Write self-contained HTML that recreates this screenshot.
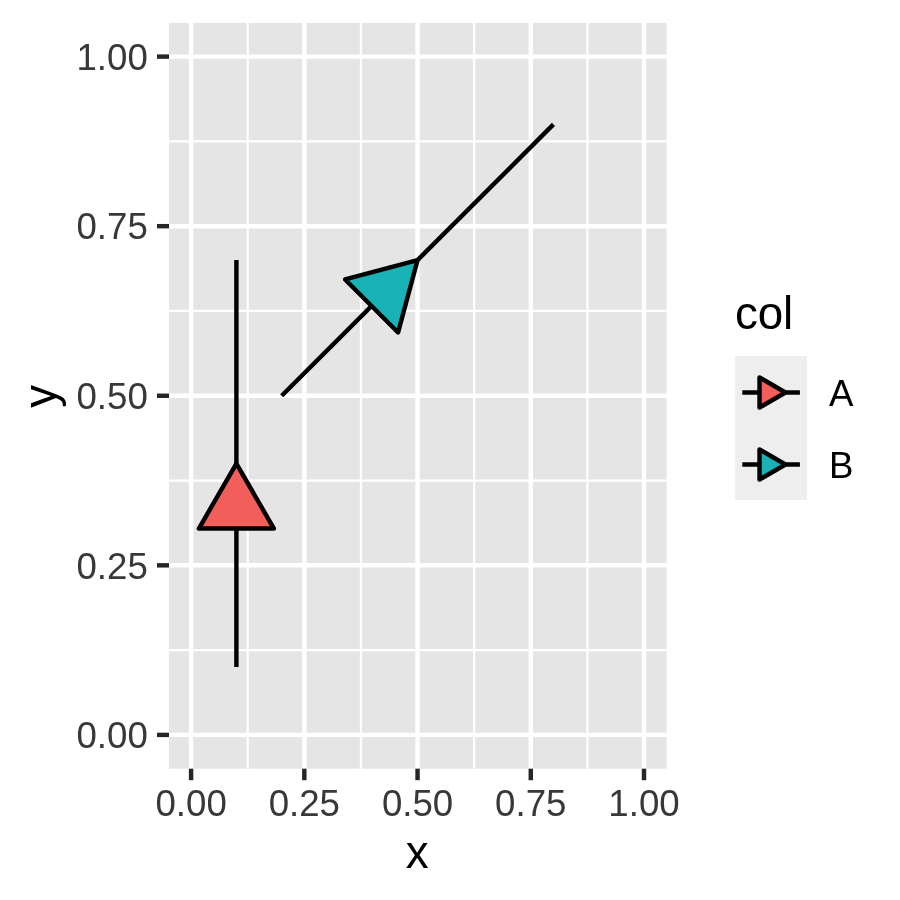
<!DOCTYPE html>
<html><head><meta charset="utf-8"><style>
html,body{margin:0;padding:0;background:#fff;}
svg{display:block;will-change:transform;}
text{font-family:"Liberation Sans",Arial,sans-serif;}
.ax{font-size:36.67px;fill:#383838;}
.ti{font-size:45.83px;fill:#000;}
.lt{font-size:36.67px;fill:#000;}
</style></head><body>
<svg width="900" height="900" viewBox="0 0 900 900">
<rect width="900" height="900" fill="#fff"/>
<rect x="169.00" y="22.90" width="497.50" height="745.80" fill="#E5E5E5"/>
<line x1="169.00" x2="666.50" y1="650.11" y2="650.11" stroke="#fff" stroke-width="2.22"/>
<line x1="169.00" x2="666.50" y1="480.54" y2="480.54" stroke="#fff" stroke-width="2.22"/>
<line x1="169.00" x2="666.50" y1="310.96" y2="310.96" stroke="#fff" stroke-width="2.22"/>
<line x1="169.00" x2="666.50" y1="141.39" y2="141.39" stroke="#fff" stroke-width="2.22"/>
<line y1="22.90" y2="768.70" x1="247.71" x2="247.71" stroke="#fff" stroke-width="2.22"/>
<line y1="22.90" y2="768.70" x1="360.94" x2="360.94" stroke="#fff" stroke-width="2.22"/>
<line y1="22.90" y2="768.70" x1="474.16" x2="474.16" stroke="#fff" stroke-width="2.22"/>
<line y1="22.90" y2="768.70" x1="587.39" x2="587.39" stroke="#fff" stroke-width="2.22"/>
<line x1="169.00" x2="666.50" y1="734.90" y2="734.90" stroke="#fff" stroke-width="4.44"/>
<line x1="169.00" x2="666.50" y1="565.33" y2="565.33" stroke="#fff" stroke-width="4.44"/>
<line x1="169.00" x2="666.50" y1="395.75" y2="395.75" stroke="#fff" stroke-width="4.44"/>
<line x1="169.00" x2="666.50" y1="226.18" y2="226.18" stroke="#fff" stroke-width="4.44"/>
<line x1="169.00" x2="666.50" y1="56.60" y2="56.60" stroke="#fff" stroke-width="4.44"/>
<line y1="22.90" y2="768.70" x1="191.10" x2="191.10" stroke="#fff" stroke-width="4.44"/>
<line y1="22.90" y2="768.70" x1="304.32" x2="304.32" stroke="#fff" stroke-width="4.44"/>
<line y1="22.90" y2="768.70" x1="417.55" x2="417.55" stroke="#fff" stroke-width="4.44"/>
<line y1="22.90" y2="768.70" x1="530.77" x2="530.77" stroke="#fff" stroke-width="4.44"/>
<line y1="22.90" y2="768.70" x1="644.00" x2="644.00" stroke="#fff" stroke-width="4.44"/>
<line x1="236.39" x2="236.39" y1="667.07" y2="260.09" stroke="#000" stroke-width="4.44"/>
<polygon points="273.89,528.53 236.39,463.58 198.89,528.53" fill="#F25E5A" stroke="#000" stroke-width="4.44" stroke-linejoin="round"/>
<line x1="281.68" x2="553.42" y1="395.75" y2="124.43" stroke="#000" stroke-width="4.44"/>
<polygon points="398.08,332.52 417.55,260.09 345.09,279.45" fill="#19B2B7" stroke="#000" stroke-width="4.44" stroke-linejoin="round"/>
<line x1="157.0" x2="169.00" y1="734.90" y2="734.90" stroke="#262626" stroke-width="4.44"/>
<line y1="768.70" y2="780.2" x1="191.10" x2="191.10" stroke="#262626" stroke-width="4.44"/>
<line x1="157.0" x2="169.00" y1="565.33" y2="565.33" stroke="#262626" stroke-width="4.44"/>
<line y1="768.70" y2="780.2" x1="304.32" x2="304.32" stroke="#262626" stroke-width="4.44"/>
<line x1="157.0" x2="169.00" y1="395.75" y2="395.75" stroke="#262626" stroke-width="4.44"/>
<line y1="768.70" y2="780.2" x1="417.55" x2="417.55" stroke="#262626" stroke-width="4.44"/>
<line x1="157.0" x2="169.00" y1="226.18" y2="226.18" stroke="#262626" stroke-width="4.44"/>
<line y1="768.70" y2="780.2" x1="530.77" x2="530.77" stroke="#262626" stroke-width="4.44"/>
<line x1="157.0" x2="169.00" y1="56.60" y2="56.60" stroke="#262626" stroke-width="4.44"/>
<line y1="768.70" y2="780.2" x1="644.00" x2="644.00" stroke="#262626" stroke-width="4.44"/>
<text x="147.8" y="748.10" text-anchor="end" class="ax">0.00</text>
<text x="191.10" y="816.1" text-anchor="middle" class="ax">0.00</text>
<text x="147.8" y="578.53" text-anchor="end" class="ax">0.25</text>
<text x="304.32" y="816.1" text-anchor="middle" class="ax">0.25</text>
<text x="147.8" y="408.95" text-anchor="end" class="ax">0.50</text>
<text x="417.55" y="816.1" text-anchor="middle" class="ax">0.50</text>
<text x="147.8" y="239.38" text-anchor="end" class="ax">0.75</text>
<text x="530.77" y="816.1" text-anchor="middle" class="ax">0.75</text>
<text x="147.8" y="69.80" text-anchor="end" class="ax">1.00</text>
<text x="644.00" y="816.1" text-anchor="middle" class="ax">1.00</text>
<text x="417.25" y="868" text-anchor="middle" class="ti">x</text>
<text transform="translate(56.3 396.30) rotate(-90)" text-anchor="middle" class="ti">y</text>
<text x="735.10" y="329.3" class="ti" letter-spacing="-0.3">col</text>
<rect x="735.10" y="356.00" width="72.00" height="72.00" fill="#EEEEEE"/>
<line x1="742.30" x2="799.90" y1="392.50" y2="392.50" stroke="#000" stroke-width="4.44"/>
<polygon points="759.52,407.50 785.50,392.50 759.52,377.50" fill="#F25E5A" stroke="#000" stroke-width="4.44" stroke-linejoin="round"/>
<text x="829.00" y="406.00" class="lt">A</text>
<rect x="735.10" y="428.00" width="72.00" height="72.00" fill="#EEEEEE"/>
<line x1="742.30" x2="799.90" y1="464.50" y2="464.50" stroke="#000" stroke-width="4.44"/>
<polygon points="759.52,479.50 785.50,464.50 759.52,449.50" fill="#19B2B7" stroke="#000" stroke-width="4.44" stroke-linejoin="round"/>
<text x="829.00" y="478.00" class="lt">B</text>
</svg>
</body></html>
